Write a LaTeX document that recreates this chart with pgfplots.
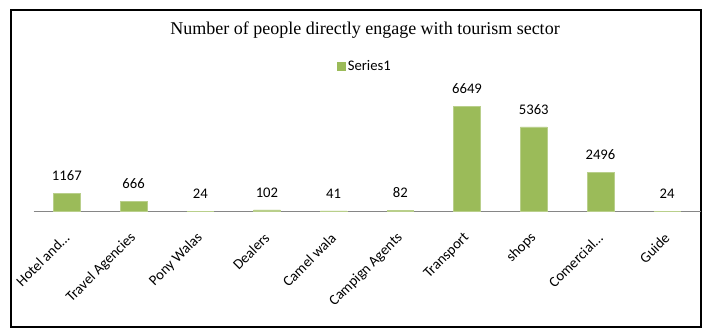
\documentclass[border=0pt]{standalone}
\usepackage{pgfplots}
\pgfplotsset{compat=1.18}
\usepackage{fontspec}
\setmainfont{Carlito}
\newfontfamily\titlefont{Liberation Serif}
\definecolor{barg}{HTML}{9BBB59}
\definecolor{axgray}{HTML}{868686}
\begin{document}
\begin{tikzpicture}
\path[use as bounding box] (0pt,0pt) rectangle (528.75pt,246.75pt);
\draw[line width=1.8pt] (8.25pt,1.5pt) rectangle (525.75pt,239.25pt);
\node[font=\titlefont\fontsize{13.5}{15}\selectfont] at (273.75pt,224.5pt) {Number of people directly engage with tourism sector};
\begin{axis}[
  at={(25.125pt,88.125pt)}, anchor=south west,
  scale only axis, width=500.25pt, height=82.8pt,
  ybar, bar width=20pt,
  xmin=-0.5, xmax=9.5, ymin=0, ymax=7000,
  axis y line=none,
  axis x line*=bottom,
  x axis line style={draw=axgray, line width=0.75pt, -},
  xtick=data, major tick length=0pt,
  xticklabels={Hotel and\dots, Travel Agencies, Pony Walas, Dealers, Camel wala, Campign Agents, Transport, shops, Comercial\dots, Guide},
  xticklabel style={xshift=0pt, yshift=-18pt, rotate=45, anchor=east, font=\fontsize{11}{13}\selectfont, inner sep=0pt},
  /pgf/number format/.cd, 1000 sep={}, assume math mode=true, /pgfplots/.cd,
  nodes near coords,
  nodes near coords style={font=\fontsize{11}{13}\selectfont, anchor=base, inner sep=0pt, yshift=9.5pt},
  clip=false,
  legend style={at={(0.497,1.318)}, anchor=center, draw=none, fill=none, font=\fontsize{11}{12}\selectfont, inner sep=0pt},
  legend image code/.code={\fill[barg] (0pt,-3pt) rectangle (6pt,3pt);},
]
\addplot[fill=barg, draw=barg!70!white] coordinates {(0,1167) (1,666) (2,24) (3,102) (4,41) (5,82) (6,6649) (7,5363) (8,2496) (9,24)};
\addlegendentry{Series1}
\end{axis}
\end{tikzpicture}
\end{document}
